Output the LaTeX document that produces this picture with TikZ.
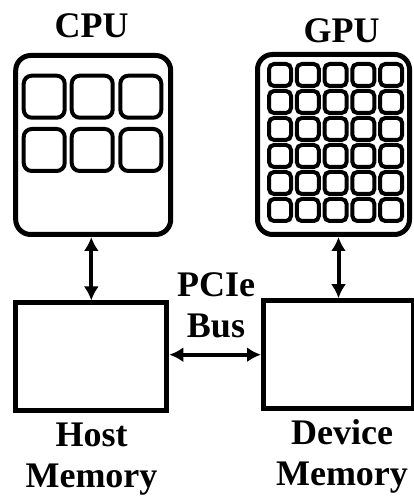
\documentclass[tikz,border=0pt]{standalone}
\usepackage{fontspec}
\setmainfont{Liberation Serif}
\usetikzlibrary{arrows.meta}

\begin{document}
\begin{tikzpicture}[x=1pt, y=1pt,
  chip/.style={draw, line width=5pt, rounded corners=15pt, inner sep=0pt},
  mem/.style={draw, line width=5pt, inner sep=0pt, minimum width=151pt, minimum height=108pt},
  bigcore/.style={draw, line width=4pt, rounded corners=8pt, inner sep=0pt, minimum width=41pt, minimum height=42pt},
  smallcore/.style={draw, line width=4pt, rounded corners=5pt, inner sep=0pt, minimum size=22pt},
  lbl/.style={font=\fontsize{36}{41}\selectfont\bfseries, align=center, inner sep=0pt},
  link/.style={{Latex[length=14pt,width=15pt]}-{Latex[length=14pt,width=15pt]}, line width=4pt}]
\useasboundingbox (0,0) rectangle (414,498);

% processors
\node[chip, minimum width=155pt, minimum height=179pt] (cpu) at (93.2,353) {};
\node[chip, minimum width=152pt, minimum height=180pt] (gpu) at (333.5,353.5) {};

\node[bigcore] (c11) at (44.2,401.3) {};
\node[bigcore] (c12) at (92.2,401.3) {};
\node[bigcore] (c13) at (140.8,401.3) {};
\node[bigcore] (c21) at (44.2,348) {};
\node[bigcore] (c22) at (92.2,348) {};
\node[bigcore] (c23) at (140.8,348) {};

\node[smallcore] (g11) at (280,423) {};
\node[smallcore] (g12) at (307.8,423) {};
\node[smallcore] (g13) at (335.6,423) {};
\node[smallcore] (g14) at (363.4,423) {};
\node[smallcore] (g15) at (391.2,423) {};
\node[smallcore] (g21) at (280,396) {};
\node[smallcore] (g22) at (307.8,396) {};
\node[smallcore] (g23) at (335.6,396) {};
\node[smallcore] (g24) at (363.4,396) {};
\node[smallcore] (g25) at (391.2,396) {};
\node[smallcore] (g31) at (280,369) {};
\node[smallcore] (g32) at (307.8,369) {};
\node[smallcore] (g33) at (335.6,369) {};
\node[smallcore] (g34) at (363.4,369) {};
\node[smallcore] (g35) at (391.2,369) {};
\node[smallcore] (g41) at (280,342) {};
\node[smallcore] (g42) at (307.8,342) {};
\node[smallcore] (g43) at (335.6,342) {};
\node[smallcore] (g44) at (363.4,342) {};
\node[smallcore] (g45) at (391.2,342) {};
\node[smallcore] (g51) at (280,315) {};
\node[smallcore] (g52) at (307.8,315) {};
\node[smallcore] (g53) at (335.6,315) {};
\node[smallcore] (g54) at (363.4,315) {};
\node[smallcore] (g55) at (391.2,315) {};
\node[smallcore] (g61) at (280,288) {};
\node[smallcore] (g62) at (307.8,288) {};
\node[smallcore] (g63) at (335.6,288) {};
\node[smallcore] (g64) at (363.4,288) {};
\node[smallcore] (g65) at (391.2,288) {};

% memories
\node[mem] (host) at (91.3,141) {};
\node[mem, minimum width=150pt] (dev) at (338.5,143.3) {};

% labels
\node[lbl, anchor=base] (cpulbl) at (91.7,460) {CPU};
\node[lbl, anchor=base] (gpulbl) at (341.7,455.5) {GPU};
\node[lbl] (buslbl) at (216,192.5) {PCIe\\Bus};
\node[lbl] (hostlbl) at (91.5,39) {Host\\Memory};
\node[lbl] (devlbl) at (342,41.5) {Device\\Memory};

% connections
\draw[link] (host.north |- cpu.south) -- (host.north);
\draw[link] (dev.north |- gpu.south) -- (dev.north);
\draw[link] (host.east |- dev.west) -- (dev.west);
\end{tikzpicture}
\end{document}
